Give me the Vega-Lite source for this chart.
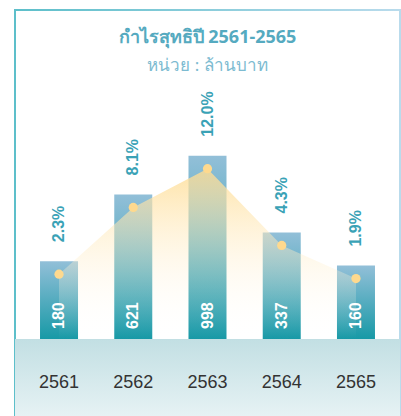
{
  "$schema": "https://vega.github.io/schema/vega-lite/v6.json",
  "autosize": "none",
  "width": 385,
  "height": 406,
  "padding": {"left": 15, "top": 10, "right": 1, "bottom": 0},
  "title": {
    "text": "กำไรสุทธิปี 2561-2565",
    "subtitle": "หน่วย : ล้านบาท",
    "anchor": "middle",
    "frame": "group",
    "offset": -64,
    "font": "Noto Sans, sans-serif",
    "fontSize": 18,
    "fontWeight": "bold",
    "color": "#55aac0",
    "subtitleFont": "Noto Sans, sans-serif",
    "subtitleFontSize": 17,
    "subtitleColor": "#7dbbd1",
    "subtitlePadding": 11
  },
  "config": {
    "view": {
      "strokeWidth": 2,
      "stroke": {"gradient": "linear", "x1": 0, "y1": 0, "x2": 1, "y2": 0, "stops": [{"offset": 0, "color": "#5dbfca"}, {"offset": 1, "color": "#b9dbec"}]}
    },
    "axis": {"grid": false, "domain": false, "ticks": false}
  },
  "data": {
    "values": [
      {"year": "2561", "profit": 180, "margin": 0.023},
      {"year": "2562", "profit": 621, "margin": 0.081},
      {"year": "2563", "profit": 998, "margin": 0.12},
      {"year": "2564", "profit": 337, "margin": 0.043},
      {"year": "2565", "profit": 160, "margin": 0.019}
    ]
  },
  "encoding": {
    "x": {
      "field": "year",
      "type": "nominal",
      "scale": {"paddingInner": 0.488, "paddingOuter": 0.337},
      "axis": {
        "title": null,
        "labelAngle": 0,
        "offset": -29,
        "tickSize": 0,
        "labelPadding": 0,
        "labelBaseline": "alphabetic",
        "labelFont": "Arial, Liberation Sans, sans-serif",
        "labelFontSize": 18,
        "labelColor": "#333333",
        "zindex": 2
      }
    }
  },
  "layer": [
    {
      "data": {"values": [{"zone": "axis band"}]},
      "mark": {
        "type": "rect",
        "color": {"gradient": "linear", "x1": 0, "y1": 0, "x2": 0, "y2": 1, "stops": [{"offset": 0, "color": "#c2dfe3"}, {"offset": 1, "color": "#e6f2f4"}]}
      },
      "encoding": {
        "x": null,
        "y": {"datum": 0, "type": "quantitative", "scale": {"type": "sqrt", "domain": [-176, 3214], "nice": false, "zero": false}, "axis": null},
        "y2": {"datum": -176}
      }
    },
    {
      "mark": {
        "type": "bar",
        "color": {"gradient": "linear", "x1": 0, "y1": 0, "x2": 0, "y2": 1, "stops": [{"offset": 0, "color": "#92bfd8"}, {"offset": 1, "color": "#1799a6"}]}
      },
      "encoding": {
        "y": {"field": "profit", "type": "quantitative"},
        "y2": {"datum": 0}
      }
    },
    {
      "mark": {
        "type": "area",
        "yOffset": 13,
        "color": {"gradient": "linear", "x1": 0, "y1": 0, "x2": 0, "y2": 1, "stops": [{"offset": 0, "color": "rgba(254,220,146,0.82)"}, {"offset": 1, "color": "rgba(255,255,255,0)"}]}
      },
      "encoding": {
        "y": {"field": "profit", "type": "quantitative"},
        "y2": {"datum": 0}
      }
    },
    {
      "mark": {"type": "point", "filled": true, "opacity": 1, "size": 85, "color": "#fed98e", "yOffset": 13},
      "encoding": {
        "y": {"field": "profit", "type": "quantitative"}
      }
    },
    {
      "mark": {"type": "text", "angle": 270, "align": "left", "baseline": "middle", "dx": 10, "font": "Arial, Liberation Sans, sans-serif", "fontSize": 16, "fontWeight": "bold", "color": "#ffffff"},
      "encoding": {
        "y": {"datum": 0},
        "text": {"field": "profit", "type": "quantitative"}
      }
    },
    {
      "mark": {"type": "text", "angle": 270, "align": "left", "baseline": "middle", "dx": 19, "font": "Arial, Liberation Sans, sans-serif", "fontSize": 16, "fontWeight": "bold", "color": "#3aa2b6"},
      "encoding": {
        "y": {"field": "profit", "type": "quantitative"},
        "text": {"field": "margin", "type": "quantitative", "format": ".1%"}
      }
    }
  ]
}
